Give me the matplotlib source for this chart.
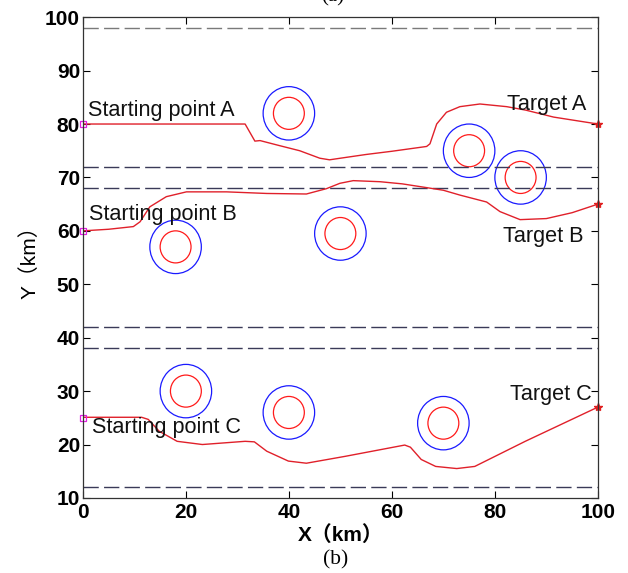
import matplotlib
matplotlib.use("Agg")
import matplotlib.pyplot as plt
from matplotlib.patches import Ellipse

# ---- data ----
path_a_x = [0, 31.5, 33.4, 34.4, 38, 42.1, 46, 47.9, 50, 55, 60, 66.75, 67.4, 68.7, 70.6, 73.2, 77.1, 82.3, 86, 91.4, 100]
path_a_y = [80, 80, 76.8, 76.9, 76.0, 75.0, 73.6, 73.3, 73.6, 74.3, 74.9, 75.8, 76.3, 80.0, 82.2, 83.25, 83.75, 83.25, 82.6, 81.3, 80]

path_b_x = [0, 5, 9.8, 11.1, 13, 16.2, 20.1, 27.9, 35.7, 43.4, 47.3, 49.9, 52.5, 57.7, 62, 66.7, 70, 73.2, 78.4, 81, 84.9, 90, 95, 100]
path_b_y = [60, 60.3, 60.8, 61.7, 64.5, 66.4, 67.3, 67.3, 67.0, 66.9, 67.9, 68.9, 69.4, 69.2, 68.8, 68.1, 67.6, 66.7, 65.4, 63.6, 62.1, 62.3, 63.4, 65]

path_c_x = [0, 11.4, 12.7, 14.8, 18.3, 23.2, 31.5, 33.3, 35.7, 39.9, 43.4, 51, 62.5, 63.6, 65.7, 68.5, 72.6, 76.1, 85.9, 100]
path_c_y = [25.1, 25.1, 24.7, 22.5, 20.6, 20.0, 20.6, 20.5, 18.75, 16.9, 16.5, 17.8, 19.9, 19.5, 17.2, 15.9, 15.5, 15.9, 20.6, 27]

obs_x = [40, 75, 85, 18, 50, 20, 40, 70]
obs_y = [82, 75, 70, 57, 59.5, 30, 26, 24]
r_inner = 3
r_outer = 5

bound_y = [98, 72, 68, 42, 38, 12]

start_x = [0, 0, 0]
start_y = [80, 60, 25]
target_x = [100, 100, 100]
target_y = [80, 65, 27]

labels = ["Starting point A", "Starting point B", "Starting point C", "Target A", "Target B", "Target C"]
label_x = [1.0, 1.2, 1.7, 82.3, 81.6, 82.9]
label_y = [81.5, 62.1, 22.2, 82.6, 57.95, 28.3]

xticks = [0, 20, 40, 60, 80, 100]
yticks = [10, 20, 30, 40, 50, 60, 70, 80, 90, 100]

# ---- figure ----
fig = plt.figure(figsize=(6.28, 5.73), dpi=100)
ax = fig.add_axes([0.132, 0.131, 0.820, 0.839])
ax.set_xlim(0, 100)
ax.set_ylim(10, 100)

for i, y in enumerate(bound_y):
    col = '#7a7a7a' if i == 0 else '#3a3a58'
    ax.axhline(y, color=col, lw=1.0, ls=(0, (11, 3.8)))

for cx, cy in zip(obs_x, obs_y):
    ax.add_patch(Ellipse((cx, cy), 2 * r_outer, 2 * r_outer, fill=False, ec='#1a1aff', lw=0.9))
    ax.add_patch(Ellipse((cx, cy), 2 * r_inner, 2 * r_inner, fill=False, ec='#ff1a1a', lw=0.9))

for px, py in [(path_a_x, path_a_y), (path_b_x, path_b_y), (path_c_x, path_c_y)]:
    ax.plot(px, py, color='#e0202a', lw=1.0)

ax.plot(start_x, start_y, ls='none', marker='s', ms=5, mfc='none', mec='#e020e0', mew=0.9, clip_on=False)
ax.plot(target_x, target_y, ls='none', marker='*', ms=6, color='#e02020', clip_on=False)

for t, x, y in zip(labels, label_x, label_y):
    ax.text(x, y, t, fontsize=15.6, family=['Liberation Sans', 'DejaVu Sans'], va='baseline', ha='left', color='#111111')

ax.set_xticks(xticks)
ax.set_yticks(yticks)
ax.tick_params(direction='in', top=True, right=True, length=5, width=0.8)
ax.tick_params(axis='x', pad=4)
ax.tick_params(axis='y', pad=2)
for lab in ax.get_xticklabels() + ax.get_yticklabels():
    lab.set_fontsize(15)
    lab.set_fontweight('bold')
    lab.set_family(['Liberation Sans', 'DejaVu Sans'])

for s in ax.spines.values():
    s.set_color('#333333')
    s.set_linewidth(0.9)

ax.set_xlabel('X（km）', fontsize=15, fontweight='bold', family=['Liberation Sans', 'Noto Sans CJK SC'], labelpad=2)
ax.set_ylabel('Y（km）', fontsize=15, family=['Liberation Sans', 'Noto Sans CJK SC'], labelpad=4)

fig.text(0.535, 0.023, '(b)', fontsize=15.5, family='Liberation Serif', ha='center', va='center')
fig.text(0.53, 1.005, '(a)', fontsize=15, family='Liberation Serif', ha='center', va='center')

fig.savefig('out.png', dpi=100)
